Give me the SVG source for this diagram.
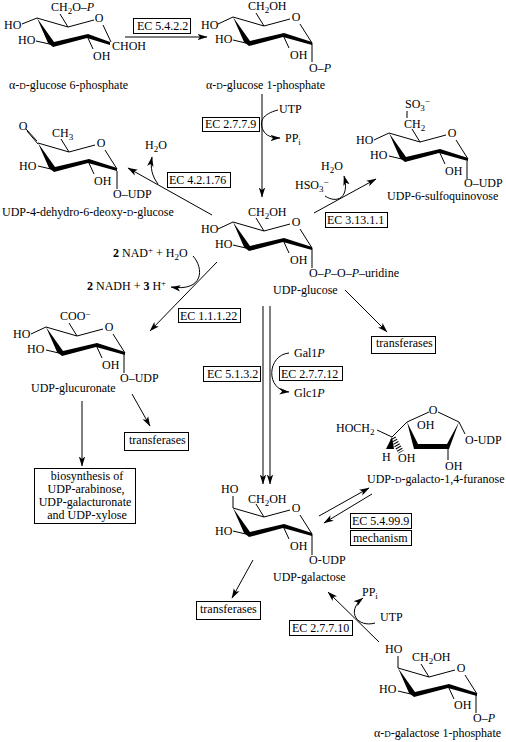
<svg xmlns="http://www.w3.org/2000/svg" xmlns:xlink="http://www.w3.org/1999/xlink" width="506" height="742" viewBox="0 0 506 742">
<style>
text{font-family:"Liberation Serif","Times New Roman",serif;font-size:12px;fill:#000}
.i{font-style:italic}.b{font-weight:bold}
.s{font-size:9px}.c{font-size:9px}
.o{text-anchor:middle}
line,polyline,.bond{stroke:#000;stroke-width:1;fill:none}
.box{fill:#fff;stroke:#000;stroke-width:1}
.w{fill:#000;stroke:none}
.a{stroke:#000;stroke-width:1;fill:none;marker-end:url(#ah)}
</style>
<defs>
<marker id="ah" markerUnits="userSpaceOnUse" markerWidth="11" markerHeight="8" refX="9.500" refY="4" orient="auto"><path d="M0,0.800 L10,4 L0,7.200 L2.500,4 Z" fill="#000"/></marker>
<g id="ring">
<polygon class="w" points="0,0 11,25 16,29 50,20 79,28 79,25 51,16 17,24"/>
<path class="bond" d="M0,0 L31,9 L57,2 M67,7 L79,26 M50,18 L56,31 M31,9 L23,-4 M17,27 L0,23"/>
<text class="o" x="63" y="4">O</text>
</g>
</defs>

<rect width="506" height="742" fill="#fff"/>

<g id="connectors">
<line class="a" x1="125" y1="37" x2="207" y2="37"/>
<line class="a" x1="262" y1="94" x2="262" y2="197"/>
<path class="a" d="M278,110 C262,114 259,122 263,130 C266,136 272,138 280,138"/>
<line class="a" x1="212" y1="215" x2="128" y2="168"/>
<path class="a" d="M158,184 C152,176 150,168 152,157"/>
<line class="a" x1="314" y1="213" x2="376" y2="179"/>
<path class="a" d="M325,196 C337,204 350,198 344,176"/>
<line class="a" x1="217" y1="262" x2="150" y2="331"/>
<path class="a" d="M193,256 C204,268 204,292 171,287"/>
<line class="a" x1="345" y1="290" x2="387" y2="332"/>
<line class="a" x1="263" y1="306" x2="263" y2="484"/>
<line class="a" x1="270" y1="306" x2="270" y2="484"/>
<path class="a" d="M289,353 C267,355 265,390 289,392"/>
<line class="a" x1="82" y1="401" x2="82" y2="466"/>
<line class="a" x1="132" y1="394" x2="150" y2="426"/>
<line class="a" x1="253" y1="560" x2="232" y2="598"/>
<line class="a" x1="319" y1="516" x2="369" y2="488"/>
<line class="a" x1="372" y1="494" x2="324" y2="523"/>
<line class="a" x1="379" y1="642" x2="328" y2="592"/>
<path class="a" d="M375,623 C358,628 345,612 363,598"/>
</g>

<g id="n-g6p">
<polygon class="w" points="37,18 48,43 53,47 87,38 110,45 110,42 88,34 54,42"/>
<path class="bond" d="M37,18 L68,27 L94,20 M103,25 L111,42 M87,36 L93,49 M68,27 L60,14 M54,45 L36,41 M22,24 L37,18"/>
<text class="o" x="99" y="22">O</text>
<text x="51" y="11">CH<tspan class="s" dy="3">2</tspan><tspan dy="-3">O–</tspan><tspan class="i">P</tspan></text>
<text x="4" y="29">HO</text><text x="18" y="44">HO</text><text x="93" y="60">OH</text><text x="112" y="50">CHOH</text>
<text x="9" y="89">α-<tspan class="c">D</tspan>-glucose 6-phosphate</text>
</g>

<g id="n-g1p">
<use xlink:href="#ring" href="#ring" x="233" y="17"/>
<line x1="218" y1="24" x2="233" y2="17"/><line x1="312" y1="43" x2="312" y2="62"/>
<text x="248" y="10">CH<tspan class="s" dy="3">2</tspan><tspan dy="-3">OH</tspan></text>
<text x="201" y="29">HO</text><text x="215" y="43">HO</text><text x="290" y="59">OH</text>
<text x="309" y="72">O–<tspan class="i">P</tspan></text>
<text x="206" y="89">α-<tspan class="c">D</tspan>-glucose 1-phosphate</text>
</g>

<g id="n-dehydro">
<use xlink:href="#ring" href="#ring" x="38" y="143"/>
<path class="bond" d="M38,144 L27,131 M37,141 L26,129 M117,171 L117,189"/>
<text class="o" x="23" y="130">O</text>
<text x="52" y="137">CH<tspan class="s" dy="3">3</tspan></text>
<text x="19" y="170">HO</text><text x="94" y="185">OH</text><text x="113" y="198">O–UDP</text>
<text x="2" y="216">UDP-4-dehydro-6-deoxy-<tspan class="c">D</tspan>-glucose</text>
</g>

<g id="n-sulfo">
<use xlink:href="#ring" href="#ring" x="389" y="133"/>
<path class="bond" d="M374,140 L389,133 M467,161 L467,179 M407,111 L407,118"/>
<text x="405" y="108">SO<tspan class="s" dy="3">3</tspan><tspan class="s" dy="-7">−</tspan></text>
<text x="404" y="128">CH<tspan class="s" dy="3">2</tspan></text>
<text x="356" y="144">HO</text><text x="370" y="159">HO</text><text x="445" y="175">OH</text><text x="464" y="187">O–UDP</text>
<text x="387" y="200">UDP-6-sulfoquinovose</text>
<text x="321" y="170">H<tspan class="s" dy="3">2</tspan><tspan dy="-3">O</tspan></text>
<text x="295" y="189">HSO<tspan class="s" dy="3">3</tspan><tspan class="s" dy="-7">−</tspan></text>
</g>

<g id="n-udpglc">
<use xlink:href="#ring" href="#ring" x="233" y="222"/>
<path class="bond" d="M218,229 L233,222 M312,248 L312,268"/>
<text x="248" y="216">CH<tspan class="s" dy="3">2</tspan><tspan dy="-3">OH</tspan></text>
<text x="201" y="233">HO</text><text x="215" y="248">HO</text><text x="290" y="264">OH</text>
<text x="309" y="277">O–<tspan class="i">P</tspan>–O–<tspan class="i">P</tspan>–uridine</text>
<text x="273" y="294">UDP-glucose</text>
</g>

<g id="n-glucuronate">
<use xlink:href="#ring" href="#ring" x="46" y="327"/>
<path class="bond" d="M31,334 L46,327 M124,354 L124,373"/>
<text x="60" y="320">COO<tspan class="s" dy="-3">−</tspan></text>
<text x="13" y="338">HO</text><text x="27" y="353">HO</text><text x="102" y="369">OH</text><text x="120" y="382">O–UDP</text>
<text x="31" y="392">UDP-glucuronate</text>
<text x="113" y="257"><tspan class="b">2</tspan> NAD<tspan class="s" dy="-4">+</tspan><tspan dy="4"> + H</tspan><tspan class="s" dy="3">2</tspan><tspan dy="-3">O</tspan></text>
<text x="87" y="290"><tspan class="b">2</tspan> NADH + <tspan class="b">3</tspan> H<tspan class="s" dy="-4">+</tspan></text>
</g>

<g id="n-udpgal">
<use xlink:href="#ring" href="#ring" x="233" y="508"/>
<path class="bond" d="M233,496 L233,508 M312,534 L312,555"/>
<text x="221" y="493">HO</text>
<text x="248" y="503">CH<tspan class="s" dy="3">2</tspan><tspan dy="-3">OH</tspan></text>
<text x="215" y="535">HO</text><text x="290" y="550">OH</text><text x="309" y="564">O-UDP</text>
<text x="273" y="581">UDP-galactose</text>
</g>

<g id="n-gal1p">
<use xlink:href="#ring" href="#ring" x="398" y="668"/>
<path class="bond" d="M398,656 L398,668 M476,694 L476,713"/>
<text x="385" y="653">HO</text>
<text x="412" y="661">CH<tspan class="s" dy="3">2</tspan><tspan dy="-3">OH</tspan></text>
<text x="379" y="693">HO</text><text x="454" y="709">OH</text>
<text x="473" y="722">O–<tspan class="i">P</tspan></text>
<text x="374" y="737">α-<tspan class="c">D</tspan>-galactose 1-phosphate</text>
</g>

<g id="n-furanose">
<polygon class="w" points="407,422 414,449 449,449 459,422 447,444 418,444"/>
<path class="bond" d="M407,422 L429,412 M438,412 L459,422 M448,448 L448,460 M459,422 L465,434 M377,430 L392,437 L407,422"/>
<polygon class="w" points="392,437 386,449 394,449"/>
<line x1="393" y1="438" x2="401" y2="452" style="stroke-width:6;stroke-dasharray:1 1.6"/>
<text class="o" x="433" y="414">O</text>
<text x="336" y="432">HOCH<tspan class="s" dy="3">2</tspan></text>
<text x="382" y="461">H</text><text x="398" y="462">OH</text><text x="417" y="429">OH</text><text x="445" y="470">OH</text>
<text x="465" y="444">O-UDP</text>
<text x="367" y="483">UDP-<tspan class="c">D</tspan>-galacto-1,4-furanose</text>
</g>

<g id="n-cofactors">
<text x="145" y="149">H<tspan class="s" dy="3">2</tspan><tspan dy="-3">O</tspan></text>
<text x="279" y="113">UTP</text>
<text x="285" y="142">PP<tspan class="s" dy="3">i</tspan></text>
<text x="294" y="357">Gal1<tspan class="i">P</tspan></text>
<text x="294" y="397">Glc1<tspan class="i">P</tspan></text>
<text x="362" y="596">PP<tspan class="s" dy="3">i</tspan></text>
<text x="380" y="621">UTP</text>
</g>

<g id="ec-boxes">
<g id="ec54222"><rect class="box" x="133.500" y="18.500" width="57" height="15"/><text x="137" y="30">EC 5.4.2.2</text></g>
<g id="ec2779"><rect class="box" x="202.500" y="117.500" width="57" height="14"/><text x="205" y="128">EC 2.7.7.9</text></g>
<g id="ec42176"><rect class="box" x="167.500" y="172.500" width="63" height="15"/><text x="169" y="184">EC 4.2.1.76</text></g>
<g id="ec31311"><rect class="box" x="325.500" y="212.500" width="62" height="15"/><text x="327" y="224">EC 3.13.1.1</text></g>
<g id="ec11122"><rect class="box" x="178.500" y="308.500" width="62" height="14"/><text x="180" y="320">EC 1.1.1.22</text></g>
<g id="ec5132"><rect class="box" x="203.500" y="366.500" width="57" height="15"/><text x="207" y="378">EC 5.1.3.2</text></g>
<g id="ec27712"><rect class="box" x="279.500" y="366.500" width="63" height="14"/><text x="281" y="378">EC 2.7.7.12</text></g>
<g id="ec54999"><rect class="box" x="350.500" y="513.500" width="61" height="15"/><text x="352" y="525">EC 5.4.99.9</text></g>
<g id="mechanism"><rect class="box" x="350.500" y="530.500" width="61" height="15"/><text x="353" y="542">mechanism</text></g>
<g id="ec27710"><rect class="box" x="289.500" y="620.500" width="63" height="15"/><text x="292" y="632">EC 2.7.7.10</text></g>
<g id="tr1"><rect class="box" x="371.500" y="336.500" width="64" height="17"/><text x="376" y="347">transferases</text></g>
<g id="tr2"><rect class="box" x="124.500" y="432.500" width="64" height="18"/><text x="129" y="444">transferases</text></g>
<g id="tr3"><rect class="box" x="196.500" y="601.500" width="64" height="18"/><text x="200" y="613">transferases</text></g>
<g id="biosynth"><rect class="box" x="34.500" y="468.500" width="101" height="55"/>
<text class="o" x="87" y="480">biosynthesis of</text><text class="o" x="86" y="493">UDP-arabinose,</text><text class="o" x="85" y="506">UDP-galacturonate</text><text class="o" x="87" y="519">and UDP-xylose</text></g>
</g>
</svg>
